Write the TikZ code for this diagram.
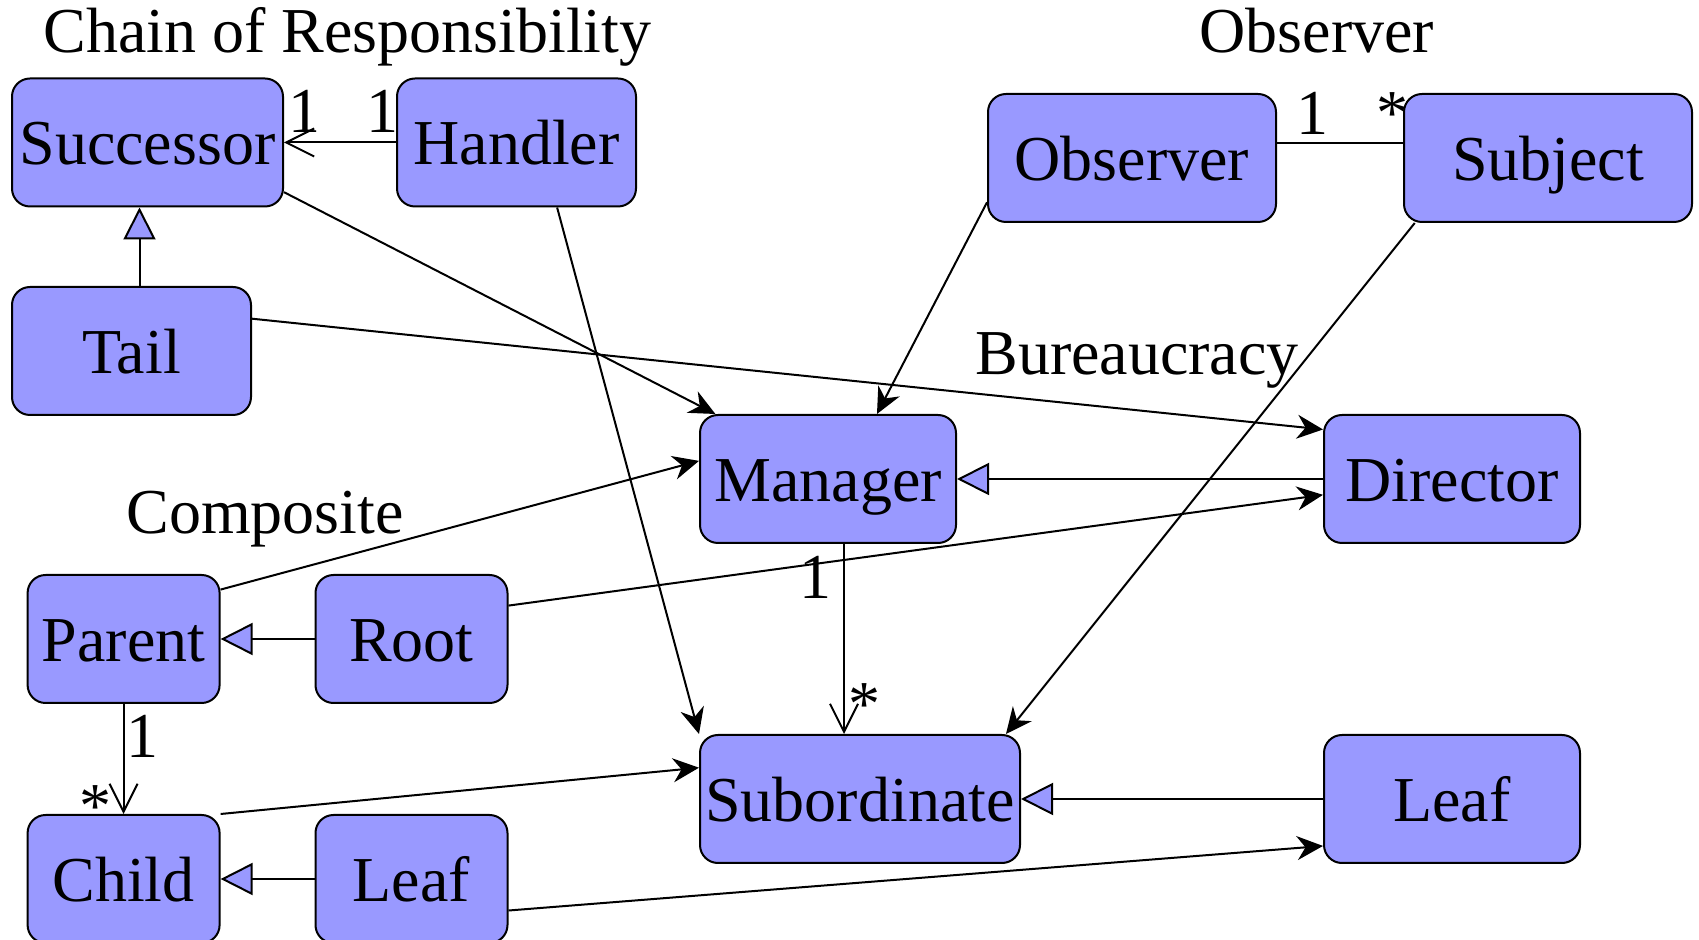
\documentclass[tikz,border=0pt]{standalone}
\usepackage{fontspec}
\setmainfont{Liberation Serif}
\usetikzlibrary{arrows.meta,calc}
\definecolor{classfill}{RGB}{153,153,255}
\begin{document}
\begin{tikzpicture}[x=0.5pt,y=-0.5pt,
  font=\fontsize{32}{38}\selectfont,
  cls/.style={draw, line width=1pt, fill=classfill, rounded corners=9pt,
    minimum height=64pt, inner sep=2pt, text height=28.8pt, text depth=6.4pt},
  title/.style={anchor=base, inner sep=0pt},
  mult/.style={inner sep=0pt},
  uses/.style={line width=1pt, -{Stealth[length=13pt,width=12pt]}},
  assoc/.style={line width=1pt, -{Straight Barb[length=14pt,width=14pt]}},
  link/.style={line width=1pt},
  inherits/.style={line width=1pt, -{Triangle[length=16pt,width=16pt,fill=classfill]}},
]
\useasboundingbox (0,0) rectangle (1699,940);

% pattern titles
\node[title] (tChain) at (347.5,53) {Chain of Responsibility};
\node[title] (tObs) at (1317,53) {Observer};
\node[title] (tBur) at (1137,375) {Bureaucracy};
\node[title] (tComp) at (265,534) {Composite};

% classes
\node[cls, minimum width=135.5pt] (Successor) at (147.5,142.5) {Successor};
\node[cls, minimum width=119.5pt] (Handler) at (516.5,142.5) {Handler};
\node[cls, minimum width=119.5pt] (Tail) at (131.5,351) {Tail};
\node[cls, minimum width=144pt] (Observer) at (1132,158) {Observer};
\node[cls, minimum width=144pt] (Subject) at (1548,158) {Subject};
\node[cls, minimum width=128pt] (Manager) at (828,479) {Manager};
\node[cls, minimum width=128pt] (Director) at (1452,479) {Director};
\node[cls, minimum width=160pt] (Subordinate) at (860,799) {Subordinate};
\node[cls, minimum width=128pt] (LeafB) at (1452,799) {Leaf};
\node[cls, minimum width=96pt] (Parent) at (123.6,639) {Parent};
\node[cls, minimum width=96pt] (Root) at (411.5,639) {Root};
\node[cls, minimum width=96pt] (Child) at (123.6,879) {Child};
\node[cls, minimum width=96pt] (LeafC) at (411.5,879) {Leaf};

% helper points for the vertical and horizontal links
\coordinate (ts) at ($(Tail.north)!.5!(Successor.south)$);
\coordinate (ms) at ($(Manager.south)!.5!(Subordinate.north)$);
\coordinate (os) at ([yshift=7.5pt]Observer.east);

% associations and generalisations
\draw[assoc] (Handler.west) -- (Successor.east);
\draw[inherits] (Tail.north -| ts) -- (Successor.south -| ts);
\draw[uses] (Successor.-20.3) -- (Manager.150.1);
\draw[uses] (Handler.-58.1) -- (Subordinate.north west);
\draw[uses] (Tail.15.4) -- (Director.159.1);
\draw[link] (os) -- (os -| Subject.west);
\draw[uses] (Observer.197.4) -- (Manager.53.4);
\draw[uses] (Subject.206.9) -- (Subordinate.24.5);
\draw[inherits] (Director.west) -- (Manager.east);
\draw[uses] (Parent.27) -- (Manager.172.4);
\draw[uses] (Root.19.6) -- (Director.187.1);
\draw[inherits] (Root.west) -- (Parent.east);
\draw[assoc] (Parent.south) -- (Child.north);
\draw[assoc] (Manager.south -| ms) -- (Subordinate.north -| ms);
\draw[uses] (Child.north east) -- (Subordinate.169);
\draw[inherits] (LeafB.west) -- (Subordinate.east);
\draw[inherits] (LeafC.west) -- (Child.east);
\draw[uses] (LeafC.-18) -- (LeafB.200.6);

% multiplicities
\node[mult, anchor=base] (m1) at (304,133) {1};
\node[mult, anchor=base] (m2) at (382,133) {1};
\node[mult, anchor=base] (m3) at (1312,135) {1};
\node[mult, anchor=north] (m4) at (1392,92) {*};
\node[mult, anchor=base] (m5) at (142,758) {1};
\node[mult, anchor=north] (m6) at (95,785) {*};
\node[mult, anchor=base] (m7) at (815,599) {1};
\node[mult, anchor=north] (m8) at (864,683) {*};
\end{tikzpicture}
\end{document}
